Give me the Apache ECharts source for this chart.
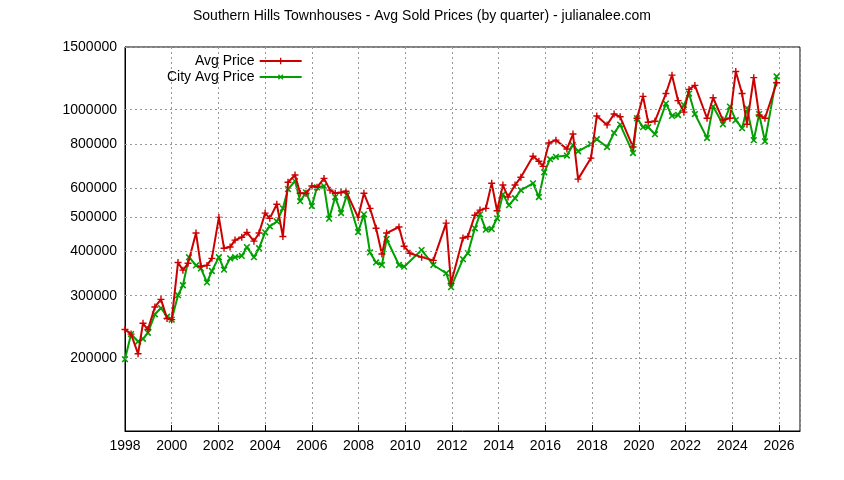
<!DOCTYPE html>
<html>
<head>
<meta charset="utf-8">
<script src="https://cdn.jsdelivr.net/npm/echarts@6/dist/echarts.min.js"></script>
<style>html,body{margin:0;padding:0;background:#fff}#chart{width:844px;height:480px}</style>
</head>
<body>
<div id="chart"></div>
<script>
// values in thousands, [year, price]
var avgPrice = [[1998.0,241],[1998.26,234],[1998.56,206],[1998.77,251],[1998.98,241],[1999.28,279],[1999.54,293],[1999.8,259],[2000.0,257],[2000.27,372],[2000.48,354],[2000.7,370],[2001.04,450],[2001.25,363],[2001.51,365],[2001.72,382],[2002.02,498],[2002.24,408],[2002.5,411],[2002.71,430],[2003.0,438],[2003.22,452],[2003.52,427],[2003.74,450],[2004.0,512],[2004.2,495],[2004.5,542],[2004.76,440],[2004.98,625],[2005.28,655],[2005.5,582],[2005.75,582],[2006.0,610],[2006.22,605],[2006.52,641],[2006.78,594],[2007.0,582],[2007.25,585],[2007.46,590],[2007.98,498],[2008.23,582],[2008.49,528],[2008.75,464],[2009.0,393],[2009.2,450],[2009.73,468],[2009.95,413],[2010.2,395],[2010.7,385],[2011.2,377],[2011.75,480],[2011.96,325],[2012.47,436],[2012.68,440],[2012.98,505],[2013.2,522],[2013.45,528],[2013.7,621],[2013.93,520],[2014.18,614],[2014.4,568],[2014.7,614],[2014.95,646],[2015.47,740],[2015.72,716],[2015.9,693],[2016.15,806],[2016.45,821],[2016.92,775],[2017.18,854],[2017.4,638],[2017.95,731],[2018.2,960],[2018.64,906],[2018.94,972],[2019.2,955],[2019.75,785],[2019.92,946],[2020.18,1090],[2020.4,922],[2020.69,928],[2021.16,1110],[2021.42,1250],[2021.68,1060],[2021.93,984],[2022.15,1140],[2022.4,1170],[2022.92,946],[2023.18,1080],[2023.6,935],[2023.9,946],[2024.15,1280],[2024.42,1110],[2024.63,910],[2024.92,1230],[2025.15,966],[2025.4,946],[2025.9,1190]];
var cityAvg = [[1998.0,199],[1998.26,234],[1998.56,223],[1998.77,227],[1998.98,236],[1999.28,266],[1999.54,277],[1999.8,262],[2000.0,257],[2000.27,301],[2000.48,321],[2000.74,385],[2001.04,365],[2001.25,358],[2001.51,327],[2001.72,352],[2002.02,385],[2002.24,355],[2002.5,382],[2002.71,385],[2003.0,388],[2003.22,411],[2003.52,385],[2003.74,408],[2004.0,452],[2004.2,470],[2004.5,485],[2004.76,528],[2004.98,598],[2005.28,630],[2005.5,553],[2005.75,585],[2006.0,536],[2006.22,605],[2006.52,610],[2006.74,494],[2007.0,568],[2007.25,512],[2007.5,575],[2007.98,453],[2008.23,508],[2008.49,397],[2008.75,372],[2009.0,366],[2009.2,433],[2009.73,366],[2009.95,362],[2010.7,403],[2011.2,366],[2011.75,347],[2011.96,317],[2012.47,380],[2012.68,395],[2012.98,464],[2013.2,508],[2013.45,460],[2013.7,462],[2013.93,495],[2014.18,578],[2014.44,539],[2014.7,564],[2014.95,594],[2015.47,621],[2015.72,568],[2015.95,667],[2016.2,726],[2016.45,737],[2016.92,743],[2017.18,795],[2017.4,764],[2017.95,800],[2018.2,826],[2018.64,785],[2018.94,860],[2019.2,908],[2019.75,755],[2019.92,946],[2020.18,893],[2020.4,893],[2020.69,853],[2021.16,1040],[2021.42,960],[2021.68,966],[2021.93,1030],[2022.15,1110],[2022.4,972],[2022.92,832],[2023.18,1020],[2023.6,910],[2023.9,1020],[2024.15,935],[2024.42,887],[2024.63,1010],[2024.92,821],[2025.15,972],[2025.4,815],[2025.9,1240]];
var yTicks = [200000, 300000, 400000, 500000, 600000, 800000, 1000000, 1500000];

var plus = 'path://M4,0h2v4h4v2h-4v4h-2v-4h-4v-2h4z';
function toFull(arr){ return arr.map(function(p){ return [p[0], p[1]*1000]; }); }

var chart = echarts.init(document.getElementById('chart'));
var font = 'Liberation Sans, Arial, sans-serif';
chart.setOption({
    animation: false,
    textStyle: {fontFamily: font},
    title: {
        text: 'Southern Hills Townhouses - Avg Sold Prices (by quarter) - julianalee.com',
        left: 'center', top: 4,
        textStyle: {fontSize: 14, fontWeight: 'normal', color: '#000', fontFamily: font}
    },
    legend: {
        orient: 'vertical', left: 162, top: 49, align: 'right',
        itemWidth: 42, itemHeight: 8, itemGap: 2,
        textStyle: {fontSize: 14, color: '#000', fontFamily: font},
        data: ['Avg Price', 'City Avg Price']
    },
    grid: {left: 125, right: 44, top: 47, bottom: 49, show: true, borderColor: '#000', borderWidth: 1},
    xAxis: {
        type: 'value', min: 1998, max: 2026.9, interval: 2,
        axisLine: {lineStyle: {color: '#000'}},
        axisTick: {inside: true, length: 6, lineStyle: {color: '#000'}},
        axisLabel: {fontSize: 14, color: '#000', showMaxLabel: false,
            formatter: function(v){ return (v % 2 === 0) ? String(v) : ''; }},
        splitLine: {show: true, lineStyle: {color: '#999', type: [2, 3]}}
    },
    yAxis: {
        type: 'log', min: 125000, max: 1500000,
        axisLine: {show: true, lineStyle: {color: '#000'}},
        axisTick: {show: false},
        axisLabel: {show: false},
        splitLine: {show: false}
    },
    series: [{
        name: 'Avg Price', type: 'line', data: toFull(avgPrice),
        symbol: plus, symbolSize: 7,
        lineStyle: {color: '#cc0000', width: 2},
        itemStyle: {color: '#cc0000'},
        markLine: {
            silent: true, symbol: 'none',
            lineStyle: {color: '#999', type: [2, 3], width: 1},
            label: {position: 'start', fontSize: 14, color: '#000', fontFamily: font, distance: 8,
                formatter: function(p){ return String(p.value); }},
            data: yTicks.map(function(v){ return {yAxis: v}; })
        },
        z: 3
    }, {
        name: 'City Avg Price', type: 'line', data: toFull(cityAvg),
        symbol: plus, symbolRotate: 45, symbolSize: 8,
        lineStyle: {color: '#00a000', width: 2},
        itemStyle: {color: '#00a000'},
        z: 2
    }]
});
</script>
</body>
</html>
